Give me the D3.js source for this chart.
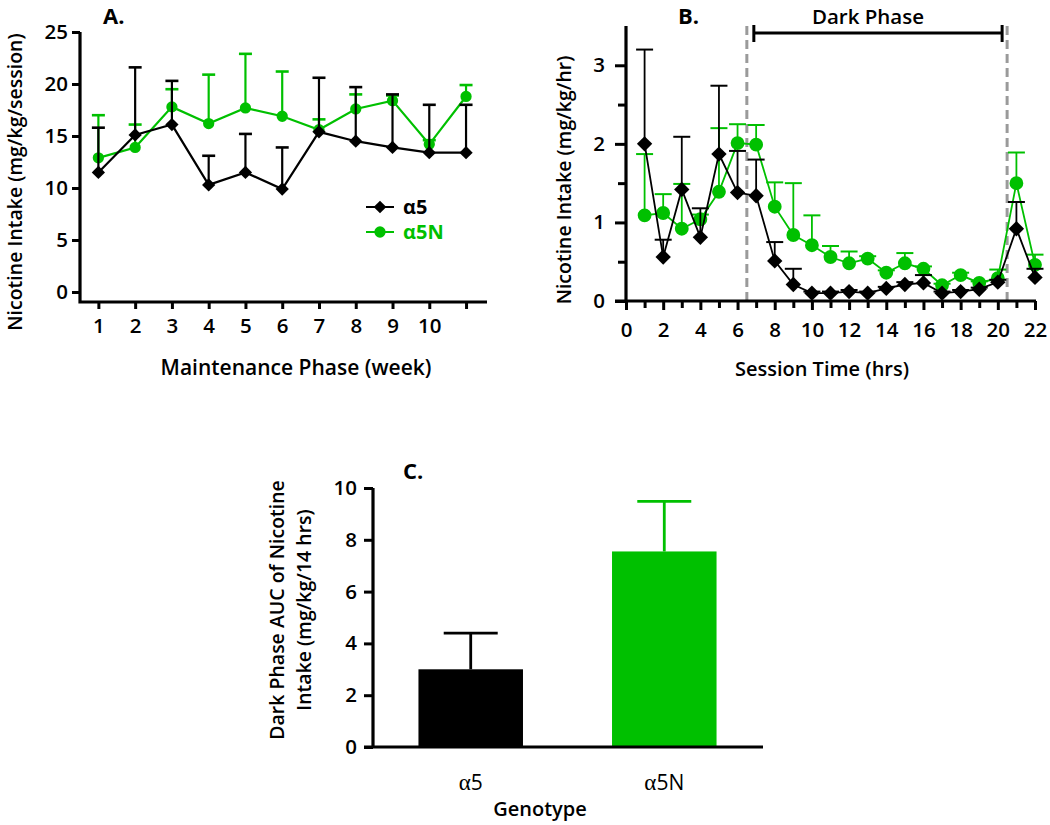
<!DOCTYPE html>
<html>
<head>
<meta charset="utf-8">
<script src="https://cdn.jsdelivr.net/npm/d3@7"></script>
<style>
  html, body { margin: 0; padding: 0; background: #fff; }
  svg { display: block; font-family: "Open Sans", "Noto Sans", sans-serif; }
</style>
</head>
<body>
<svg id="chart" width="1050" height="825"></svg>
<script>
// ---------------- DATA ----------------
// Panel A: maintenance phase (weeks)
const weeks = [1, 2, 3, 4, 5, 6, 7, 8, 9, 10, 11];
const weekTickLabels = ["1", "2", "3", "4", "5", "6", "7", "8", "9", "10", ""];
const a5Weekly     = [11.5, 15.1, 16.1, 10.3, 11.5, 9.9, 15.4, 14.5, 13.9, 13.4, 13.4];
const a5WeeklySem  = [4.3, 6.5, 4.2, 2.8, 3.7, 4.0, 5.2, 5.2, 5.1, 4.6, 4.6];
const a5NWeekly    = [12.9, 13.9, 17.8, 16.2, 17.7, 16.9, 15.6, 17.6, 18.4, 14.2, 18.8];
const a5NWeeklySem = [4.1, 2.2, 1.7, 4.7, 5.2, 4.3, 1.0, 1.4, 0.5, 0.4, 1.1];
const weeklyYTicks = [0, 5, 10, 15, 20, 25];

// Panel B: session time (hours)
const hours = [1, 2, 3, 4, 5, 6, 7, 8, 9, 10, 11, 12, 13, 14, 15, 16, 17, 18, 19, 20, 21, 22];
const a5Hourly     = [2.0, 0.56, 1.42, 0.81, 1.87, 1.38, 1.34, 0.51, 0.21, 0.10, 0.10, 0.12, 0.10, 0.16, 0.21, 0.23, 0.10, 0.12, 0.15, 0.24, 0.92, 0.30];
const a5HourlySem  = [1.2, 0.22, 0.67, 0.37, 0.87, 0.53, 0.46, 0.24, 0.20, 0.02, 0.02, 0.02, 0.02, 0.02, 0.03, 0.10, 0.02, 0.02, 0.02, 0.03, 0.34, 0.11];
const a5NHourly    = [1.09, 1.12, 0.92, 1.04, 1.39, 2.01, 1.99, 1.20, 0.84, 0.71, 0.56, 0.48, 0.54, 0.36, 0.48, 0.41, 0.20, 0.33, 0.23, 0.29, 1.50, 0.46];
const a5NHourlySem = [0.78, 0.24, 0.57, 0.06, 0.81, 0.24, 0.25, 0.31, 0.66, 0.38, 0.14, 0.15, 0.03, 0.03, 0.13, 0.03, 0.02, 0.03, 0.02, 0.11, 0.39, 0.13];
const hourlyYTicks = [0, 1, 2, 3];
const hourlyXTicks = [0, 2, 4, 6, 8, 10, 12, 14, 16, 18, 20, 22];
const darkPhase = [6.5, 20.5];

// Panel C: dark phase AUC
const genotypes = ["α5", "α5N"];
const aucValues = [3.0, 7.55];
const aucSem    = [1.4, 1.93];
const aucYTicks = [0, 2, 4, 6, 8, 10];

// ---------------- STYLE ----------------
const GREEN = "#00c000";
const BLACK = "#000000";
const svg = d3.select("#chart");
const FONT = 19.5;
const TICKFONT = 20.5;

function styleAxis(g, width) {
  g.select(".domain").remove();
  g.selectAll(".tick line").attr("stroke", BLACK).attr("stroke-width", width);
  g.selectAll(".tick text").attr("fill", BLACK).attr("font-size", TICKFONT).attr("font-weight", 600)
    .attr("font-family", '"Open Sans", sans-serif');
}

// ---------------- PANEL A ----------------
(function () {
  const x = d3.scaleLinear().domain([0.5, 11.57]).range([80, 487]);
  const y = d3.scaleLinear().domain([0, 25]).range([292, 32]);
  const g = svg.append("g");
  const axisBottomY = 302;

  g.append("path").attr("d", `M80,${y(25)}V${axisBottomY}H487`)
    .attr("fill", "none").attr("stroke", BLACK).attr("stroke-width", 3.2);

  const ya = g.append("g").attr("transform", "translate(80,0)")
    .call(d3.axisLeft(y).tickValues(weeklyYTicks).tickSize(8).tickPadding(4));
  styleAxis(ya, 3);
  const xa = g.append("g").attr("transform", `translate(0,${axisBottomY})`)
    .call(d3.axisBottom(x).tickValues(weeks).tickFormat((d, i) => weekTickLabels[i]).tickSize(7).tickPadding(9));
  styleAxis(xa, 3);

  const series = [
    { vals: a5NWeekly, sem: a5NWeeklySem, color: GREEN, marker: "circle" },
    { vals: a5Weekly, sem: a5WeeklySem, color: BLACK, marker: "diamond" }
  ];
  series.forEach(s => {
    const pts = weeks.map((w, i) => ({ x: w, y: s.vals[i], e: s.sem[i] }));
    const eb = g.append("g").attr("stroke", s.color).attr("stroke-width", 2.2);
    pts.forEach(p => {
      eb.append("line").attr("x1", x(p.x)).attr("x2", x(p.x)).attr("y1", y(p.y)).attr("y2", y(p.y + p.e));
      eb.append("line").attr("x1", x(p.x) - 6.5).attr("x2", x(p.x) + 6.5).attr("y1", y(p.y + p.e)).attr("y2", y(p.y + p.e)).attr("stroke-width", 2.6);
    });
    g.append("path").datum(pts)
      .attr("d", d3.line().x(d => x(d.x)).y(d => y(d.y)))
      .attr("fill", "none").attr("stroke", s.color).attr("stroke-width", 2.2);
    const sym = s.marker === "circle" ? d3.symbol(d3.symbolCircle, 100) : d3.symbol(d3.symbolSquare, 88);
    g.selectAll(null).data(pts).enter().append("path")
      .attr("d", sym)
      .attr("transform", d => `translate(${x(d.x)},${y(d.y)})` + (s.marker === "diamond" ? " rotate(45)" : ""))
      .attr("fill", s.color);
  });

  // legend
  const leg = [
    { label: "α5", color: BLACK, marker: "diamond", y: 207 },
    { label: "α5N", color: GREEN, marker: "circle", y: 232 }
  ];
  leg.forEach(l => {
    g.append("line").attr("x1", 366).attr("x2", 394).attr("y1", l.y).attr("y2", l.y)
      .attr("stroke", l.color).attr("stroke-width", 2);
    const sym = l.marker === "circle" ? d3.symbol(d3.symbolCircle, 100) : d3.symbol(d3.symbolSquare, 80);
    g.append("path").attr("d", sym)
      .attr("transform", `translate(380,${l.y})` + (l.marker === "diamond" ? " rotate(45)" : ""))
      .attr("fill", l.color);
    g.append("text").attr("x", 403).attr("y", l.y).attr("dy", "0.35em")
      .attr("font-size", 20).attr("font-weight", 700).attr("fill", l.color).text(l.label);
  });

  g.append("text").attr("x", 103).attr("y", 24).attr("font-size", 22).attr("font-weight", 700).text("A.");
  g.append("text").attr("x", 296).attr("y", 375).attr("text-anchor", "middle")
    .attr("font-size", 21).attr("font-weight", 600).text("Maintenance Phase (week)");
  g.append("text").attr("transform", "translate(15,182) rotate(-90)").attr("dy", "0.35em")
    .attr("text-anchor", "middle").attr("font-size", FONT).attr("font-weight", 600)
    .text("Nicotine Intake (mg/kg/session)");
})();

// ---------------- PANEL B ----------------
(function () {
  const x = d3.scaleLinear().domain([0, 22]).range([626, 1035]);
  const y = d3.scaleLinear().domain([0, 3.5]).range([301, 26]);
  const g = svg.append("g");

  darkPhase.forEach(h => {
    g.append("line").attr("x1", x(h)).attr("x2", x(h)).attr("y1", y(3.5)).attr("y2", y(0))
      .attr("stroke", "#9a9a9a").attr("stroke-width", 3).attr("stroke-dasharray", "9,5");
  });

  g.append("line").attr("x1", x(0)).attr("x2", x(0)).attr("y1", y(3.5)).attr("y2", y(0))
    .attr("stroke", BLACK).attr("stroke-width", 3.2);
  g.append("line").attr("x1", x(0) - 11).attr("x2", x(22) + 1).attr("y1", y(0)).attr("y2", y(0))
    .attr("stroke", BLACK).attr("stroke-width", 3.2);

  const ya = g.append("g").attr("transform", `translate(${x(0)},0)`)
    .call(d3.axisLeft(y).tickValues(hourlyYTicks).tickFormat(d3.format("d")).tickSize(11).tickPadding(10));
  styleAxis(ya, 3);
  const yMinor = g.append("g").attr("transform", `translate(${x(0)},0)`)
    .call(d3.axisLeft(y).tickValues([0.5, 1.5, 2.5]).tickSize(8).tickFormat(""));
  styleAxis(yMinor, 3);

  const xa = g.append("g").attr("transform", `translate(0,${y(0)})`)
    .call(d3.axisBottom(x).tickValues(hourlyXTicks).tickFormat(d3.format("d")).tickSize(9).tickPadding(12));
  styleAxis(xa, 3);
  const xMinor = g.append("g").attr("transform", `translate(0,${y(0)})`)
    .call(d3.axisBottom(x).tickValues(d3.range(1, 22, 2)).tickSize(7).tickFormat(""));
  styleAxis(xMinor, 3);

  const series = [
    { vals: a5NHourly, sem: a5NHourlySem, color: GREEN, marker: "circle" },
    { vals: a5Hourly, sem: a5HourlySem, color: BLACK, marker: "diamond" }
  ];
  series.forEach(s => {
    const pts = hours.map((h, i) => ({ x: h, y: s.vals[i], e: s.sem[i] }));
    const eb = g.append("g").attr("stroke", s.color).attr("stroke-width", 1.8);
    pts.forEach(p => {
      eb.append("line").attr("x1", x(p.x)).attr("x2", x(p.x)).attr("y1", y(p.y)).attr("y2", y(p.y + p.e));
      eb.append("line").attr("x1", x(p.x) - 8.5).attr("x2", x(p.x) + 8.5).attr("y1", y(p.y + p.e)).attr("y2", y(p.y + p.e)).attr("stroke-width", 2);
    });
    g.append("path").datum(pts)
      .attr("d", d3.line().x(d => x(d.x)).y(d => y(d.y)))
      .attr("fill", "none").attr("stroke", s.color).attr("stroke-width", 1.8);
    const sym = s.marker === "circle" ? d3.symbol(d3.symbolCircle, 150) : d3.symbol(d3.symbolSquare, 118);
    g.selectAll(null).data(pts).enter().append("path")
      .attr("d", sym)
      .attr("transform", d => `translate(${x(d.x)},${y(d.y)})` + (s.marker === "diamond" ? " rotate(45)" : ""))
      .attr("fill", s.color);
  });

  // dark phase bracket
  const bx1 = x(darkPhase[0]) + 7, bx2 = x(darkPhase[1]) - 5, by = 33;
  g.append("line").attr("x1", bx1).attr("x2", bx2).attr("y1", by).attr("y2", by).attr("stroke", BLACK).attr("stroke-width", 3);
  [bx1, bx2].forEach(bx => g.append("line").attr("x1", bx).attr("x2", bx).attr("y1", by - 8).attr("y2", by + 9)
    .attr("stroke", BLACK).attr("stroke-width", 3));
  g.append("text").attr("x", (bx1 + bx2) / 2 - 10).attr("y", 24).attr("text-anchor", "middle")
    .attr("font-size", 20.5).attr("font-weight", 600).text("Dark Phase");

  g.append("text").attr("x", 678).attr("y", 24).attr("font-size", 22).attr("font-weight", 700).text("B.");
  g.append("text").attr("x", 822).attr("y", 376).attr("text-anchor", "middle")
    .attr("font-size", 20).attr("font-weight", 600).text("Session Time (hrs)");
  g.append("text").attr("transform", "translate(564,180) rotate(-90)").attr("dy", "0.35em")
    .attr("text-anchor", "middle").attr("font-size", FONT).attr("font-weight", 600)
    .text("Nicotine Intake (mg/kg/hr)");
})();

// ---------------- PANEL C ----------------
(function () {
  const x = d3.scaleBand().domain(genotypes).range([372, 763]).paddingInner(0.46).paddingOuter(0.24);
  const y = d3.scaleLinear().domain([0, 10]).range([747, 488]);
  const g = svg.append("g");
  const colors = [BLACK, GREEN];

  genotypes.forEach((gt, i) => {
    const cx = x(gt) + x.bandwidth() / 2;
    g.append("line").attr("x1", cx).attr("x2", cx).attr("y1", y(aucValues[i])).attr("y2", y(aucValues[i] + aucSem[i]))
      .attr("stroke", colors[i]).attr("stroke-width", 2.8);
    g.append("line").attr("x1", cx - 27).attr("x2", cx + 27).attr("y1", y(aucValues[i] + aucSem[i])).attr("y2", y(aucValues[i] + aucSem[i]))
      .attr("stroke", colors[i]).attr("stroke-width", 2.8);
  });
  g.selectAll(null).data(genotypes).enter().append("rect")
    .attr("x", d => x(d)).attr("width", x.bandwidth())
    .attr("y", (d, i) => y(aucValues[i])).attr("height", (d, i) => y(0) - y(aucValues[i]))
    .attr("fill", (d, i) => colors[i]);

  g.append("line").attr("x1", 373).attr("x2", 373).attr("y1", y(10)).attr("y2", y(0)).attr("stroke", BLACK).attr("stroke-width", 3.2);
  g.append("line").attr("x1", 364).attr("x2", 763).attr("y1", y(0)).attr("y2", y(0)).attr("stroke", BLACK).attr("stroke-width", 3.2);

  const ya = g.append("g").attr("transform", "translate(373,0)")
    .call(d3.axisLeft(y).tickValues(aucYTicks).tickSize(9).tickPadding(7));
  styleAxis(ya, 3);

  const xa = g.append("g").attr("transform", `translate(0,${y(0)})`)
    .call(d3.axisBottom(x).tickSize(0).tickPadding(28));
  xa.select(".domain").remove();
  xa.selectAll(".tick text").each(function (d) {
    const t = d3.select(this).text("").attr("fill", BLACK).attr("font-size", 21).attr("font-weight", 400);
    t.append("tspan").attr("font-family", '"Liberation Serif", serif').attr("font-size", 23).text(d.charAt(0));
    t.append("tspan").attr("font-family", '"Open Sans", sans-serif').text(d.slice(1));
  });

  g.append("text").attr("x", 403).attr("y", 479).attr("font-size", 22).attr("font-weight", 700).text("C.");
  g.append("text").attr("x", 540).attr("y", 816).attr("text-anchor", "middle")
    .attr("font-size", 20).attr("font-weight", 600).text("Genotype");
  const lab = g.append("text").attr("transform", "translate(291,610) rotate(-90)")
    .attr("text-anchor", "middle").attr("font-size", FONT).attr("font-weight", 600);
  lab.append("tspan").attr("x", 0).attr("dy", "-0.35em").text("Dark Phase AUC of Nicotine");
  lab.append("tspan").attr("x", 0).attr("dy", "1.4em").text("Intake (mg/kg/14 hrs)");
})();
</script>
</body>
</html>
